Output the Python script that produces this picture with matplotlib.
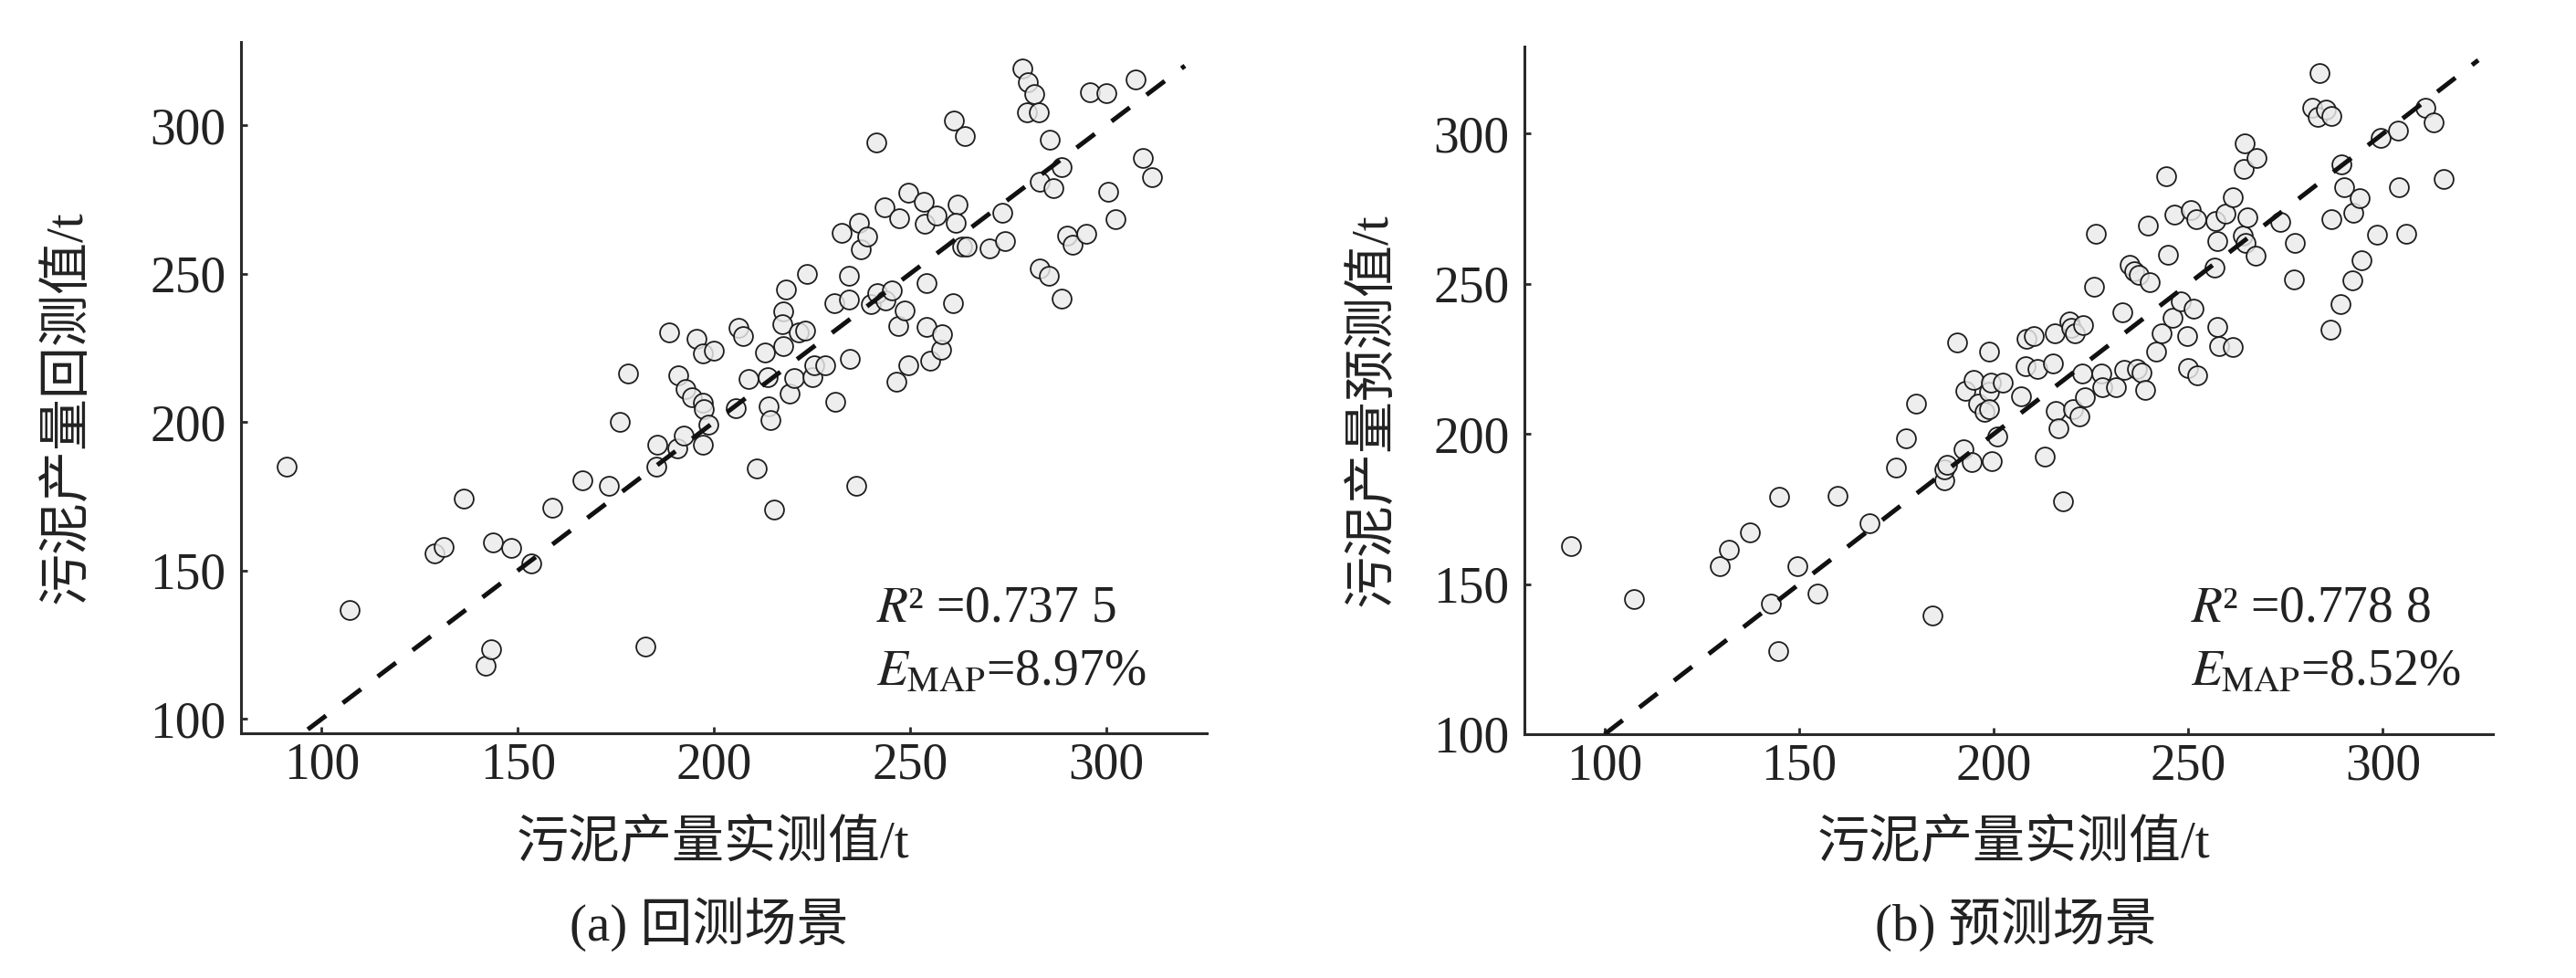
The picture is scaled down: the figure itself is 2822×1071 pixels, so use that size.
import matplotlib
matplotlib.use("Agg")
import matplotlib.pyplot as plt

# -----------------------------
# Data
# -----------------------------
# (a) back-test scenario: measured vs back-tested sludge output (t)
meas_a = [91.2, 107.2, 128.7, 131.2, 136.3, 143.7, 148.3, 153.4, 141.7, 143.3,
          158.7, 166.5, 173.1, 176.0, 178.2, 182.5, 185.2, 185.6, 188.5, 191.0,
          190.6, 192.2, 192.8, 194.3, 195.5, 197.1, 197.1, 197.1, 197.5, 198.6,
          200.0, 205.5, 206.2, 207.4, 208.8, 210.9, 212.9, 213.6, 214.0, 214.4,
          215.4, 217.7, 217.5, 217.7, 218.3, 219.3, 220.5, 221.6, 223.2, 223.8,
          225.1, 225.5, 228.3, 230.8, 230.6, 232.6, 234.3, 234.3, 234.7, 236.3,
          237.0, 237.4, 239.0, 240.0, 241.3, 241.7, 243.5, 243.7, 245.4, 246.6,
          247.0, 247.2, 248.5, 249.5, 249.5, 253.4, 253.8, 254.2, 254.2, 255.2,
          256.7, 257.9, 258.1, 261.0, 261.2, 262.0, 261.6, 263.9, 263.2, 264.3,
          270.1, 273.5, 274.1, 278.6, 279.9, 281.5, 279.7, 282.8, 283.0, 285.4,
          283.0, 285.6, 286.5, 288.5, 288.5, 290.1, 291.4, 294.9, 295.7, 300.0,
          300.4, 302.3, 307.4, 309.2, 311.7]
pred_a = [185.0, 136.8, 155.9, 158.0, 174.1, 159.6, 157.5, 152.5, 118.0, 123.6,
          171.1, 180.3, 178.5, 200.0, 216.3, 124.5, 185.0, 192.5, 230.3, 215.9,
          191.2, 195.6, 211.3, 208.4, 228.2, 223.0, 206.5, 192.3, 204.4, 199.2,
          224.1, 204.8, 231.8, 229.1, 214.4, 184.3, 223.6, 215.1, 205.4, 200.6,
          170.7, 237.2, 233.1, 225.7, 244.6, 209.6, 214.9, 230.3, 230.8, 250.0,
          215.3, 219.0, 219.0, 206.7, 240.2, 263.8, 249.2, 241.4, 221.3, 178.5,
          267.2, 258.2, 262.6, 239.7, 294.1, 243.5, 272.4, 241.0, 244.4, 213.6,
          232.4, 268.8, 237.7, 219.0, 277.2, 274.1, 266.7, 246.7, 232.0, 220.7,
          269.5, 224.5, 229.5, 240.2, 301.7, 273.2, 267.2, 296.4, 259.0, 259.0,
          258.6, 270.5, 261.1, 319.2, 314.6, 310.5, 304.4, 304.4, 251.9, 249.2,
          281.0, 295.0, 278.7, 285.8, 241.6, 262.8, 259.8, 263.4, 311.1, 310.7,
          277.6, 268.4, 315.3, 288.9, 282.4]

# (b) prediction scenario: measured vs predicted sludge output (t)
meas_b = [91.3, 107.5, 129.6, 131.9, 137.3, 142.7, 144.8, 144.6, 149.6, 154.6,
          159.8, 168.1, 174.8, 177.5, 180.0, 184.2, 187.3, 187.3, 187.9, 190.6,
          192.3, 192.7, 194.4, 194.8, 196.0, 197.7, 198.9, 198.9, 199.2, 198.8,
          199.4, 201.0, 202.3, 207.1, 208.3, 208.1, 210.2, 211.3, 213.1, 215.2,
          215.6, 216.0, 216.7, 217.7, 219.4, 219.8, 220.4, 220.8, 221.9, 222.9,
          222.7, 223.5, 226.3, 225.8, 227.7, 227.9, 231.3, 233.1, 233.5, 234.8,
          236.0, 236.9, 237.3, 237.9, 239.0, 239.6, 240.0, 241.7, 243.1, 244.2,
          244.8, 246.0, 246.5, 248.1, 249.6, 250.0, 250.6, 251.3, 252.1, 252.3,
          256.7, 256.9, 257.5, 257.5, 257.9, 259.6, 261.5, 261.5, 264.0, 264.2,
          264.4, 264.6, 265.2, 267.3, 267.5, 273.5, 277.1, 277.3, 281.9, 283.3,
          283.8, 285.4, 286.7, 286.5, 286.7, 289.0, 289.4, 290.0, 292.1, 292.3,
          294.0, 294.6, 298.5, 299.4, 303.8, 304.0, 306.0, 311.0, 313.1, 315.6]
pred_b = [162.7, 144.9, 155.9, 161.5, 167.1, 143.6, 179.1, 127.8, 156.1, 146.7,
          179.3, 170.2, 188.9, 198.4, 210.1, 139.5, 184.5, 188.3, 189.7, 230.4,
          194.9, 214.4, 190.6, 218.0, 210.1, 207.4, 227.3, 214.2, 217.1, 208.2,
          191.0, 199.3, 217.1, 212.6, 231.7, 222.7, 232.5, 221.7, 192.4, 223.6,
          233.5, 207.6, 201.8, 177.7, 237.5, 235.4, 208.4, 233.5, 205.9, 236.4,
          220.0, 212.2, 266.6, 249.1, 220.0, 215.5, 215.7, 240.6, 221.3, 256.2,
          254.1, 221.7, 252.9, 220.5, 214.8, 269.5, 250.6, 227.3, 233.5, 285.7,
          259.7, 238.7, 273.2, 244.3, 232.5, 221.9, 274.7, 241.8, 271.5, 219.4,
          255.3, 270.9, 235.6, 264.1, 229.4, 273.4, 278.8, 229.0, 266.1, 288.2,
          296.9, 263.7, 272.2, 259.5, 291.9, 270.7, 251.6, 263.7, 308.5, 305.6,
          320.1, 308.1, 306.0, 234.6, 271.5, 243.3, 289.8, 282.3, 251.2, 273.8,
          278.6, 257.8, 266.4, 298.5, 301.0, 282.1, 266.8, 308.5, 303.9, 285.0]

# 1:1 reference line extent per panel
ref_a = [96.5, 320.0]
ref_b = [100.0, 324.5]

r2_texts = [r"$R$² =0.737 5", r"$R$² =0.778 8"]
mape_texts = [r"$E_{\mathrm{MAP}}$=8.97%", r"$E_{\mathrm{MAP}}$=8.52%"]
ylabels = ["污泥产量回测值/t", "污泥产量预测值/t"]
xlabel = "污泥产量实测值/t"
captions = ["(a) 回测场景", "(b) 预测场景"]
ticks = [100, 150, 200, 250, 300]

# -----------------------------
# Style
# -----------------------------
plt.rcParams["font.family"] = ["Liberation Serif", "Noto Sans CJK SC"]
plt.rcParams["mathtext.fontset"] = "stix"
INK = "#222222"
FS = 40

fig = plt.figure(figsize=(28.22, 10.71), dpi=100)

ax_a = fig.add_axes([0.0936, 0.2502, 0.3749, 0.7068])
ax_b = fig.add_axes([0.5918, 0.2493, 0.3760, 0.7030])

panels = [
    (ax_a, meas_a, pred_a, ref_a, (79.5, 325.6), (95.2, 328.0), (-0.1786, 0.472), 0.488, (241.4, 133.0, 111.5)),
    (ax_b, meas_b, pred_b, ref_b, (79.4, 328.3), (100.0, 329.0), (-0.1555, 0.472), 0.505, (250.7, 137.7, 116.4)),
]

for i, (ax, xs, ys, ref, xlim, ylim, ylab_pos, xlab_x, txt) in enumerate(panels):
    ax.plot(ref, ref, color="#111111", lw=3.6, linestyle=(0, (5.0, 4.6)),
            dash_capstyle="butt", zorder=3)
    ax.scatter(xs, ys, s=225, facecolors=(0.92, 0.92, 0.92, 0.82),
               edgecolors="#1e1e1e", linewidths=1.3, zorder=2)

    ax.set_xlim(*xlim)
    ax.set_ylim(*ylim)
    ax.set_xticks(ticks)
    ax.set_yticks(ticks)

    for side in ["top", "right"]:
        ax.spines[side].set_visible(False)
    for side in ["left", "bottom"]:
        ax.spines[side].set_linewidth(2.2)
        ax.spines[side].set_color("#2a2a2a")

    ax.tick_params(axis="both", direction="in", length=5, width=2,
                   color="#2a2a2a", labelsize=FS, labelcolor=INK)
    ax.tick_params(axis="x", pad=7)
    ax.tick_params(axis="y", pad=12)

    ax.set_xlabel(xlabel, fontsize=41, color=INK, va="center")
    ax.xaxis.set_label_coords(xlab_x, -0.161)
    ax.set_ylabel(ylabels[i], fontsize=41, color=INK, va="center")
    ax.yaxis.set_label_coords(*ylab_pos)

    tx, ty1, ty2 = txt
    ax.text(tx, ty1, r2_texts[i], fontsize=FS, color=INK, ha="left", va="baseline")
    ax.text(tx, ty2, mape_texts[i], fontsize=FS, color=INK, ha="left", va="baseline")

fig.text(0.2753, 0.055, captions[0], fontsize=41, color=INK, ha="center", va="center")
fig.text(0.7825, 0.055, captions[1], fontsize=41, color=INK, ha="center", va="center")

fig.savefig("out.png", dpi=100, facecolor="white")
